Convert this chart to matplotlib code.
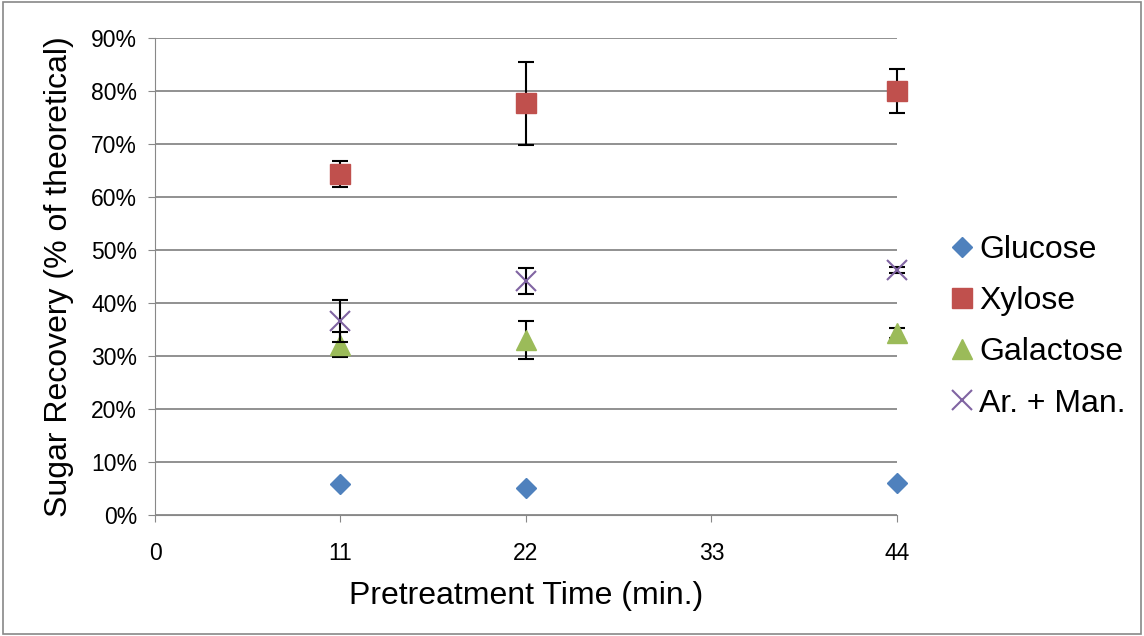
import matplotlib
matplotlib.use("Agg")
import matplotlib.pyplot as plt
from matplotlib.ticker import PercentFormatter
from matplotlib.patches import Rectangle

# pretreatment time (min.)
times = [11, 22, 44]

# sugar recovery (% of theoretical) and error bars
glucose = [5.9, 5.2, 6.0]
xylose = [64.4, 77.7, 80.0]
xylose_err = [2.5, 7.8, 4.2]
galactose = [32.2, 33.0, 34.4]
galactose_err = [2.4, 3.6, 0.9]
arman = [36.6, 44.2, 46.3]
arman_err = [4.0, 2.4, 0.6]

plt.rcParams['font.family'] = ['Liberation Sans', 'DejaVu Sans']

fig = plt.figure(figsize=(11.44, 6.36), dpi=100)
ax = fig.add_axes([0.1355, 0.19, 0.6485, 0.75])

err_kw = dict(ecolor='black', elinewidth=1.5, capsize=6, capthick=1.5, clip_on=False)
ax.errorbar(times, glucose, fmt='D', color='#4F81BD', ms=10, label='Glucose',
            zorder=3, clip_on=False)
ax.errorbar(times, xylose, yerr=xylose_err, fmt='s', color='#C0504D', ms=14,
            label='Xylose', zorder=3, **err_kw)
ax.errorbar(times, galactose, yerr=galactose_err, fmt='^', color='#9BBB59', ms=14,
            label='Galactose', zorder=3, **err_kw)
ax.errorbar(times, arman, yerr=arman_err, fmt='x', color='#8064A2', ms=14, mew=1.5,
            label='Ar. + Man.', zorder=4, **err_kw)

ax.set_xlim(0, 44)
ax.set_ylim(0, 90)
ax.set_xticks([0, 11, 22, 33, 44])
ax.set_yticks(range(0, 91, 10))
ax.yaxis.set_major_formatter(PercentFormatter(decimals=0))
ax.grid(axis='y', color='#888888', linewidth=1.3)
ax.set_axisbelow(True)
for s in ['top', 'right']:
    ax.spines[s].set_visible(False)
ax.spines['left'].set_color('#888888')
ax.spines['bottom'].set_color('#888888')
ax.tick_params(labelsize=16.5, color='#888888', length=5, pad=8)
ax.tick_params(axis='x', pad=14)
ax.set_xlabel('Pretreatment Time (min.)', fontsize=23, labelpad=12)
ax.set_ylabel('Sugar Recovery (% of theoretical)', fontsize=23, labelpad=12)

handles, labels = ax.get_legend_handles_labels()
handles = [h[0] for h in handles]
fig.legend(handles, labels, loc='center left', bbox_to_anchor=(0.800, 0.486),
           frameon=False, fontsize=23, handletextpad=0.0, labelspacing=0.66,
           handlelength=1.1, markerscale=1.0)

fig.patches.append(Rectangle((0.003, 0.003), 0.994, 0.994, transform=fig.transFigure,
                             fill=False, edgecolor='#888888', linewidth=1.2))

fig.savefig('out.png', dpi=100)
